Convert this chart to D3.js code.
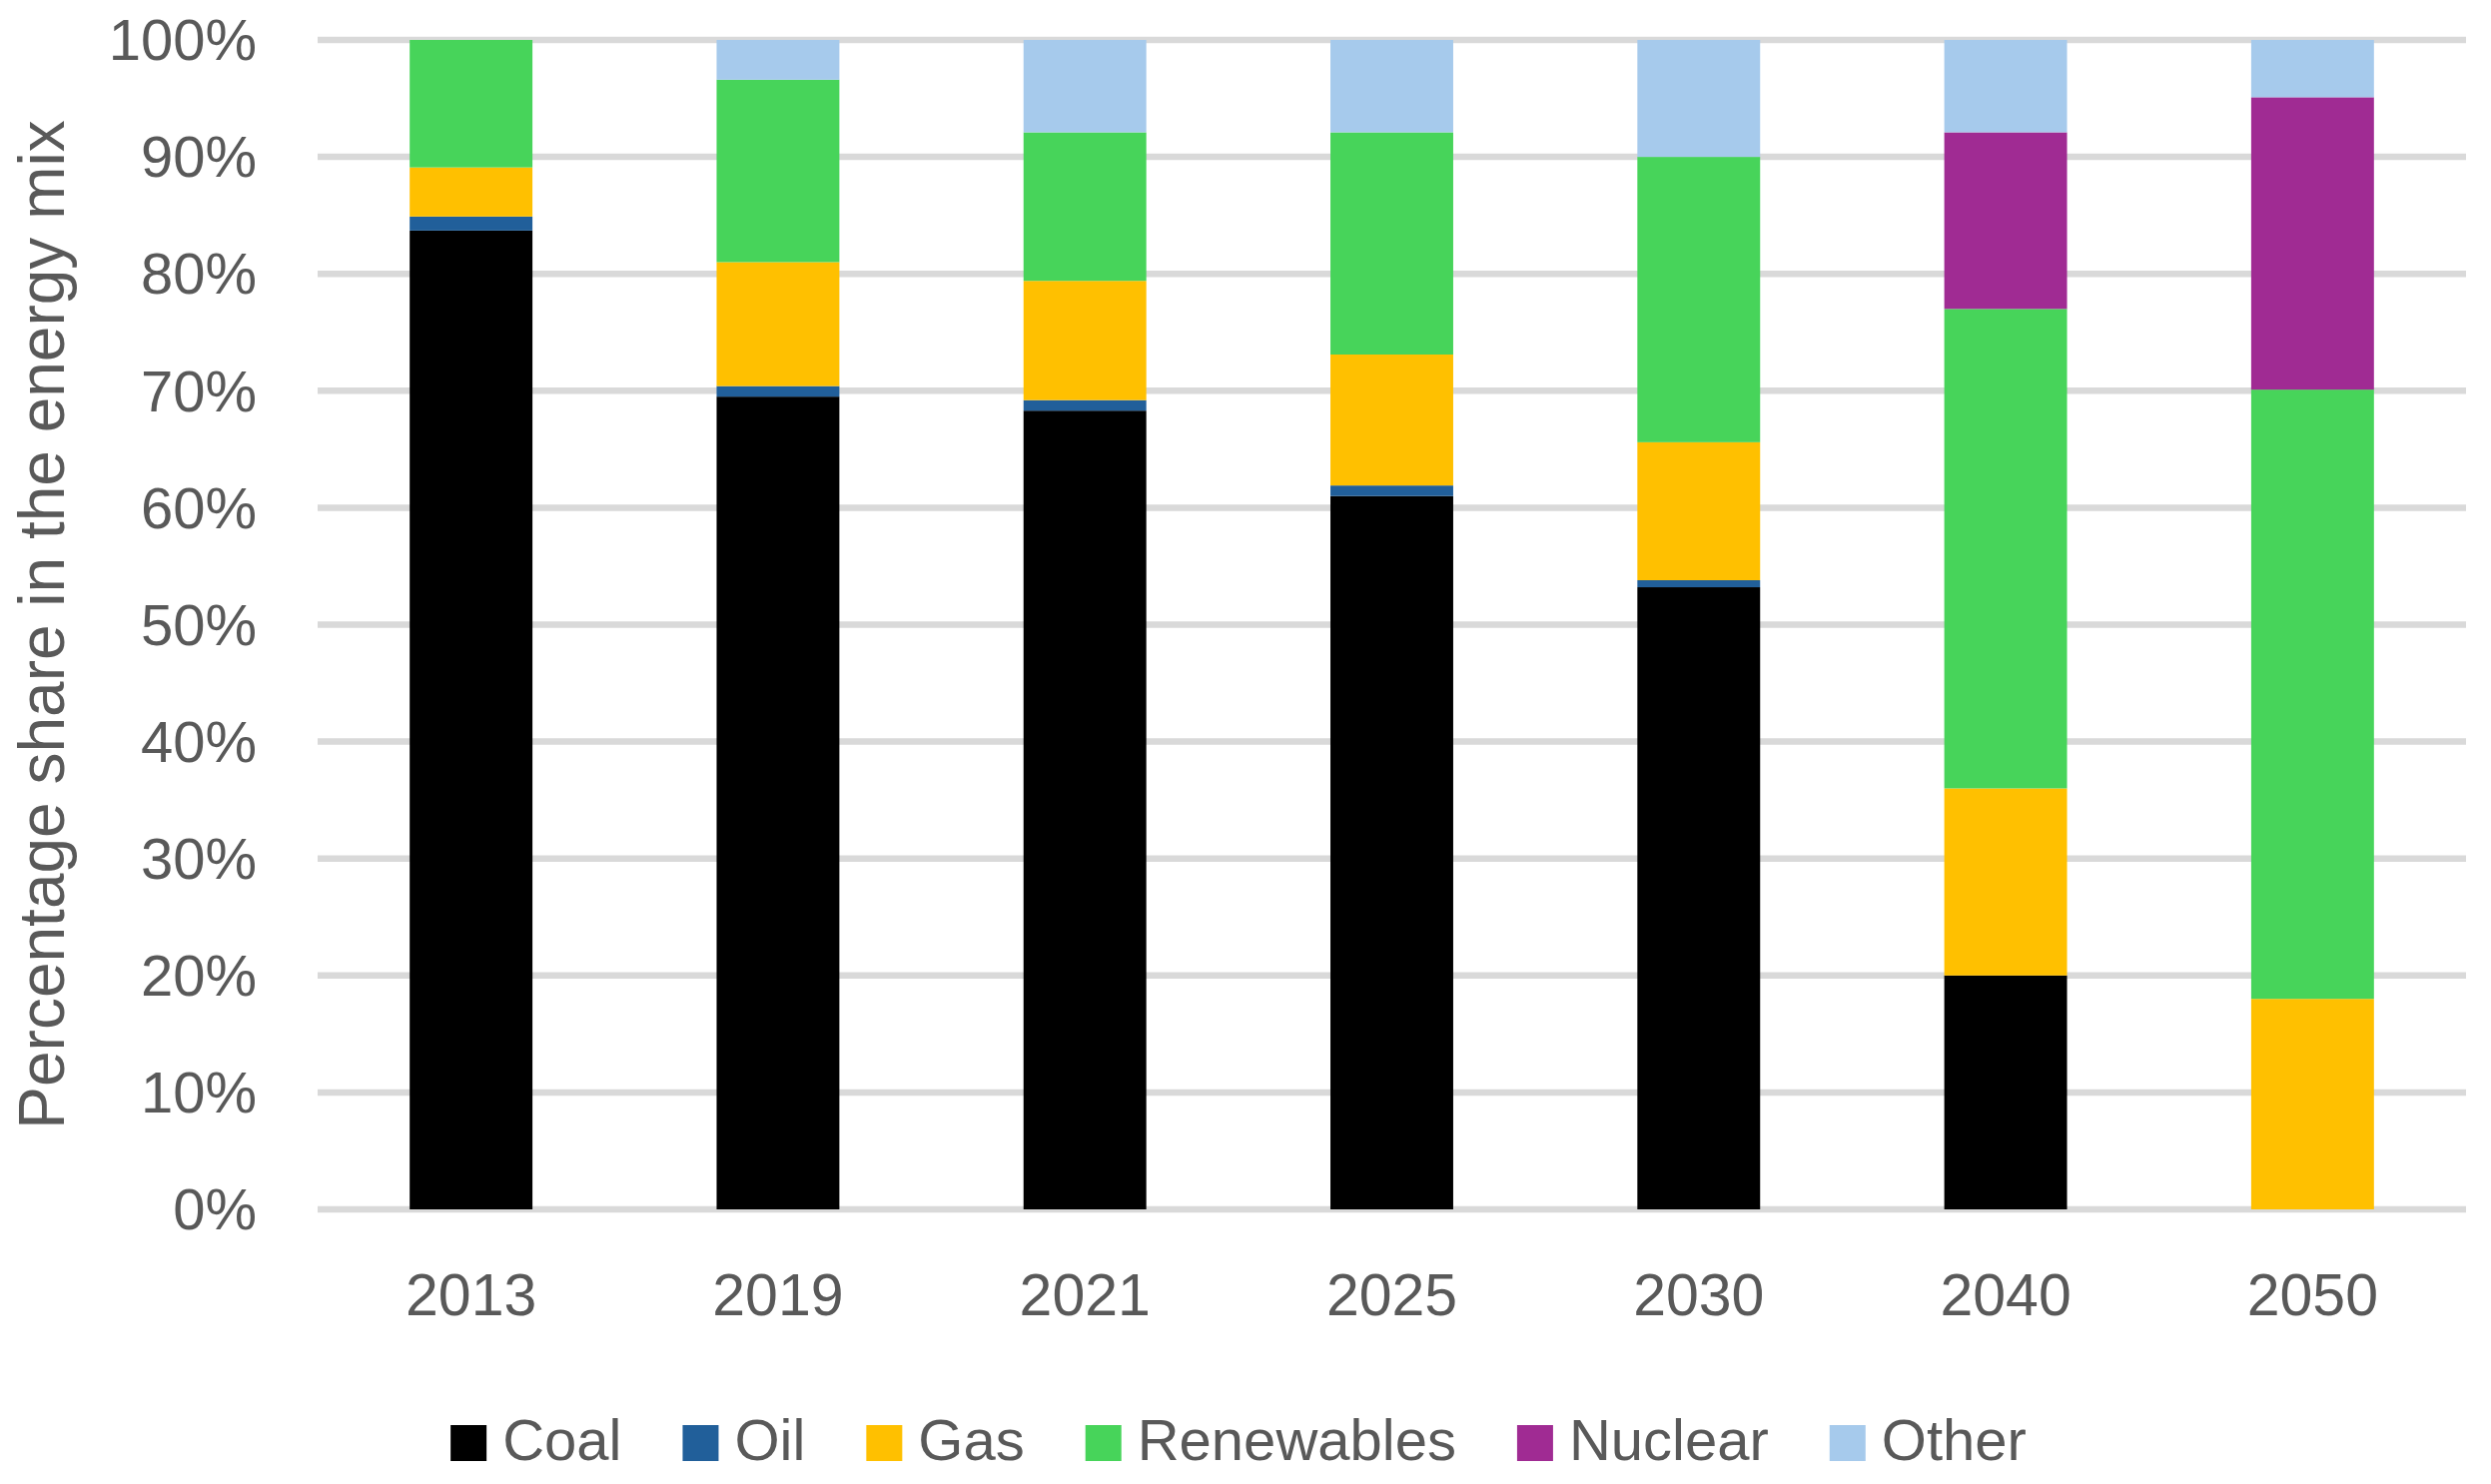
<!DOCTYPE html>
<html>
<head>
<meta charset="utf-8">
<script src="https://cdn.jsdelivr.net/npm/d3@7"></script>
<style>
  html, body { margin: 0; padding: 0; background: #ffffff; }
  svg { display: block; }
  text { font-family: "Liberation Sans", Arial, sans-serif; fill: #595959; }
</style>
</head>
<body>
<svg id="chart" width="2494" height="1486"></svg>
<script>
// ---- Data ----
const years = ["2013", "2019", "2021", "2025", "2030", "2040", "2050"];
const coal       = [83.7, 69.5, 68.3, 61.0, 53.2, 20.0, 0];
const oil        = [1.2, 0.9, 0.9, 0.9, 0.6, 0, 0];
const gas        = [4.2, 10.6, 10.2, 11.2, 11.8, 16.0, 18.0];
const renewables = [10.9, 15.6, 12.7, 19.0, 24.4, 41.0, 52.1];
const nuclear    = [0, 0, 0, 0, 0, 15.1, 25.0];
const other      = [0, 3.4, 7.9, 7.9, 10.0, 7.9, 4.9];
const seriesNames = ["Coal", "Oil", "Gas", "Renewables", "Nuclear", "Other"];
const seriesColors = ["#000000", "#215F9A", "#FFC000", "#47D45A", "#A02B93", "#A6CAEC"];
const yTicks = [0, 10, 20, 30, 40, 50, 60, 70, 80, 90, 100];
const yTitle = "Percentage share in the energy mix";

(function () {
const seriesValues = [coal, oil, gas, renewables, nuclear, other];
const table = years.map((yr, i) => {
  const row = { year: yr };
  seriesNames.forEach((s, k) => row[s] = seriesValues[k][i]);
  return row;
});

const svg = d3.select("#chart");
const pLeft = 318, pRight = 2469, pTop = 40, pBottom = 1211;

const x = d3.scaleBand().domain(years).range([pLeft, pRight]).paddingInner(0.6).paddingOuter(0.3);
const y = d3.scaleLinear().domain([0, 100]).range([pBottom, pTop]);
const color = d3.scaleOrdinal().domain(seriesNames).range(seriesColors);

// Gridlines
svg.append("g")
  .selectAll("line")
  .data(yTicks)
  .join("line")
  .attr("x1", pLeft).attr("x2", pRight)
  .attr("y1", d => y(d)).attr("y2", d => y(d))
  .attr("stroke", "#d9d9d9")
  .attr("stroke-width", 6.5);

// Y axis labels
const yAxis = d3.axisLeft(y).tickValues(yTicks).tickFormat(d => d + "%").tickSize(0).tickPadding(0);
const yg = svg.append("g").attr("transform", "translate(257,0)").call(yAxis);
yg.select(".domain").remove();
yg.selectAll("text")
  .attr("font-size", 58)
  .attr("fill", "#595959")
  .attr("font-family", "Liberation Sans, Arial, sans-serif")
  .attr("dy", "0.34em");

// Stacked bars
const stacked = d3.stack().keys(seriesNames)(table);
svg.append("g")
  .selectAll("g")
  .data(stacked)
  .join("g")
  .attr("fill", d => color(d.key))
  .selectAll("rect")
  .data(d => d)
  .join("rect")
  .attr("x", d => x(d.data.year))
  .attr("width", x.bandwidth())
  .attr("y", d => y(d[1]))
  .attr("height", d => Math.max(0, y(d[0]) - y(d[1])));

// X axis labels
const xAxis = d3.axisBottom(x).tickSize(0).tickPadding(0);
const xg = svg.append("g").attr("transform", `translate(0,${pBottom + 106})`).call(xAxis);
xg.select(".domain").remove();
xg.selectAll("text")
  .attr("font-size", 59)
  .attr("fill", "#595959")
  .attr("font-family", "Liberation Sans, Arial, sans-serif")
  .attr("dy", 0)
  .attr("y", 0);

// Y title
svg.append("text")
  .attr("transform", `translate(64,${(pTop + pBottom) / 2}) rotate(-90)`)
  .attr("text-anchor", "middle")
  .attr("font-size", 64)
  .text(yTitle);

// Legend
const legend = svg.append("g");
const items = legend.selectAll("g").data(seriesNames).join("g");
items.append("rect")
  .attr("width", 36).attr("height", 36)
  .attr("y", -35)
  .attr("fill", d => color(d));
items.append("text")
  .attr("x", 52)
  .attr("y", 0)
  .attr("font-size", 58)
  .text(d => d);
let cx = 0;
const gap = 61;
items.each(function () {
  const g = d3.select(this);
  const w = 52 + g.select("text").node().getComputedTextLength();
  g.attr("transform", `translate(${cx},1462)`);
  cx += w + gap;
});
const totalW = cx - gap;
legend.attr("transform", `translate(${1240 - totalW / 2},0)`);
})();
</script>
</body>
</html>
